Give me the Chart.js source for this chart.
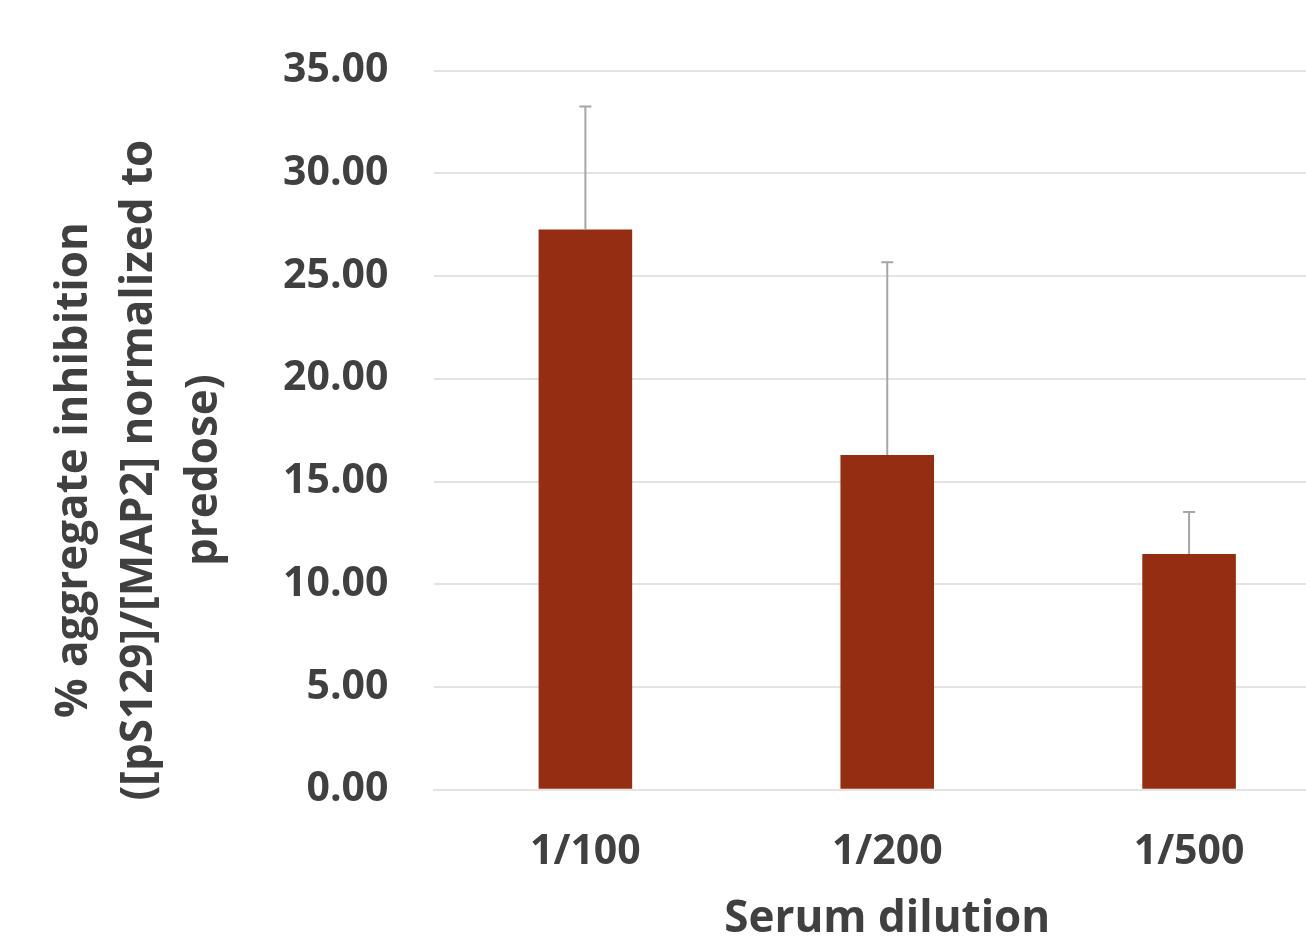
<!DOCTYPE html>
<html>
<head>
<meta charset="utf-8">
<script src="https://cdn.jsdelivr.net/npm/chart.js@4"></script>
<style>
    html, body { margin: 0; padding: 0; background: #fff; overflow: hidden; }
    #wrap { width: 1340px; height: 960px; }
</style>
</head>
<body>
<div id="wrap"><canvas id="bar-chart"></canvas></div>
<script>
const dilutions = ['1/100', '1/200', '1/500'];
const inhibition = [27.27, 16.29, 11.47];
const errorUp = [5.98, 9.38, 2.04];
const yTicks = [0, 5, 10, 15, 20, 25, 30, 35];
const yTitle = ['% aggregate inhibition', '([pS129]/[MAP2] normalized to', 'predose)'];

const textColor = '#404040';
const font = 'Open Sans';
const yTitleSize = 44;
const yTitleLine = 65;

// draws the upper error bars on top of each bar
const errorBars = {
    id: 'errorBars',
    afterDatasetsDraw(chart) {
        const ctx = chart.ctx;
        const y = chart.scales.y;
        const meta = chart.getDatasetMeta(0);
        ctx.save();
        ctx.strokeStyle = '#a6a6a6';
        ctx.lineWidth = 2;
        meta.data.forEach((bar, i) => {
            const top = y.getPixelForValue(inhibition[i] + errorUp[i]);
            ctx.beginPath();
            ctx.moveTo(bar.x, bar.y);
            ctx.lineTo(bar.x, top);
            ctx.moveTo(bar.x - 6, top);
            ctx.lineTo(bar.x + 6, top);
            ctx.stroke();
        });
        ctx.restore();
    }
};

// y axis title, centred a bit lower than the plot like the excel original
const yAxisTitle = {
    id: 'yAxisTitle',
    afterDraw(chart) {
        const ctx = chart.ctx;
        const y = chart.scales.y;
        const left = y.left - yTitle.length * yTitleLine;
        const mid = (y.top + y.bottom) / 2 + 40;
        ctx.save();
        ctx.fillStyle = textColor;
        ctx.font = 'bold ' + yTitleSize + 'px "' + font + '"';
        ctx.textAlign = 'center';
        ctx.textBaseline = 'middle';
        yTitle.forEach((line, i) => {
            ctx.save();
            ctx.translate(left + (i + 0.5) * yTitleLine, mid);
            ctx.rotate(-Math.PI / 2);
            ctx.fillText(line, 0, 0);
            ctx.restore();
        });
        ctx.restore();
    }
};

new Chart(document.querySelector('#bar-chart').getContext('2d'), {
    type: 'bar',
    data: {
        labels: dilutions,
        datasets: [{
            data: inhibition,
            backgroundColor: '#952d12',
            borderWidth: 0,
            barPercentage: 1,
            categoryPercentage: 0.31
        }]
    },
    options: {
        responsive: true,
        maintainAspectRatio: false,
        animation: false,
        layout: { padding: { top: 54, left: 42 + yTitle.length * yTitleLine, right: 0, bottom: 35 } },
        plugins: {
            legend: { display: false },
            tooltip: { enabled: false }
        },
        scales: {
            x: {
                grid: { display: false, drawTicks: false },
                border: { display: true, color: '#e3e3e3', width: 2 },
                ticks: {
                    color: textColor,
                    padding: 38,
                    font: { family: font, size: 41, weight: 'bold' }
                },
                title: {
                    display: true,
                    text: 'Serum dilution',
                    color: textColor,
                    padding: 0,
                    font: { family: font, size: 44, weight: 'bold', lineHeight: 0.23 }
                }
            },
            y: {
                min: 0,
                max: 35,
                afterBuildTicks: axis => { axis.ticks = yTicks.map(v => ({ value: v })); },
                grid: { color: '#e3e3e3', lineWidth: 2, drawTicks: false },
                border: { display: false },
                ticks: {
                    color: textColor,
                    padding: 46,
                    callback: v => v.toFixed(2),
                    font: { family: font, size: 41, weight: 'bold' }
                }
            }
        }
    },
    plugins: [errorBars, yAxisTitle]
});
</script>
</body>
</html>
